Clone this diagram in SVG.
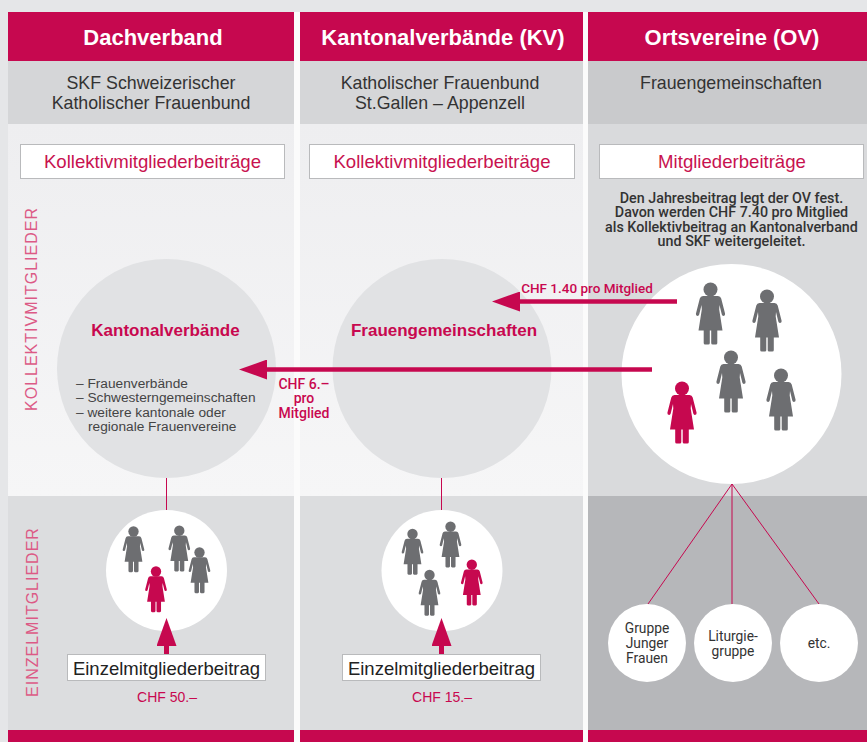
<svg xmlns="http://www.w3.org/2000/svg" xmlns:xlink="http://www.w3.org/1999/xlink" width="867" height="742" viewBox="0 0 867 742">
<style>
text{font-family:"Liberation Sans",Arial,sans-serif;}
.hd{fill:#fff;font-weight:bold;font-size:22px;text-anchor:middle;}
.sub{fill:#333;font-size:17.8px;text-anchor:middle;}
.boxt{fill:#c8124f;font-size:18.6px;text-anchor:middle;}
.box{fill:#fff;stroke:#b9babc;stroke-width:1;}
.big{fill:#e1e2e4;}
.wc{fill:#fff;}
.ttl{fill:#c8084f;font-weight:bold;font-size:17px;text-anchor:middle;}
.lst{fill:#444;font-size:13.7px;}
.lbl{fill:#c8084f;font-family:Roboto,"Liberation Sans",sans-serif;font-weight:500;font-size:14px;text-anchor:middle;}
.desc{fill:#333;font-family:Roboto,"Liberation Sans",sans-serif;font-weight:500;font-size:14.3px;text-anchor:middle;}
.ein{fill:#222;font-size:18.5px;text-anchor:middle;}
.chf{fill:#c8084f;font-size:14px;text-anchor:middle;}
.grp{fill:#333;font-family:Roboto,"Liberation Sans",sans-serif;font-weight:400;font-size:13.8px;text-anchor:middle;}
.vert{fill:#dc5a86;font-size:16px;letter-spacing:1px;text-anchor:middle;}
.arr{stroke:#c6084f;stroke-width:4.5;fill:none;}
.thin{stroke:#c6084f;stroke-width:1;fill:none;}
.gray{fill:#6d6e71;}
.red{fill:#c6084f;}
</style>
<defs>
<linearGradient id="bodyg" x1="0" y1="0" x2="0" y2="1">
<stop offset="0" stop-color="#eeeef0"/>
<stop offset="1" stop-color="#f6f6f7"/>
</linearGradient>
<marker id="ah" viewBox="0 0 28 20" markerUnits="userSpaceOnUse" markerWidth="28" markerHeight="20" refX="0" refY="10" orient="auto">
<path d="M0,0 L28,10 L0,20 Z" fill="#c6084f"/>
</marker>
<g id="woman">
<circle cx="0" cy="0" r="7"/>
<path d="M-7.5,6.5 L7.5,6.5 Q10,6.5 10.7,9 L14.6,24.2 Q14.9,26.2 13,26.4 Q11.7,26.5 11.3,25 L9,15.5 L8.7,20 L12,41 L-12,41 L-8.7,20 L-9,15.5 L-11.3,25 Q-11.7,26.5 -13,26.4 Q-14.9,26.2 -14.6,24.2 L-10.7,9 Q-10,6.5 -7.5,6.5 Z"/>
<path d="M-6.8,40 L-0.7,40 L-0.7,53.5 Q-0.7,55 -2.2,55 L-5.3,55 Q-6.8,55 -6.8,53.5 Z"/>
<path d="M6.8,40 L0.7,40 L0.7,53.5 Q0.7,55 2.2,55 L5.3,55 Q6.8,55 6.8,53.5 Z"/>
</g>
</defs>

<!-- background -->
<rect x="0" y="0" width="867" height="742" fill="#e5e6e8"/>
<rect x="294" y="12" width="6" height="730" fill="#fbfbfb"/>
<rect x="583" y="12" width="5" height="730" fill="#fbfbfb"/>

<!-- column 1 -->
<rect x="8" y="124" width="286" height="372" fill="url(#bodyg)"/>
<rect x="8" y="496" width="286" height="234" fill="#dcdddf"/>
<rect x="8" y="730" width="286" height="12" fill="#c6084f"/>
<!-- column 2 -->
<rect x="300" y="124" width="283" height="372" fill="url(#bodyg)"/>
<rect x="300" y="496" width="283" height="234" fill="#dcdddf"/>
<rect x="300" y="730" width="283" height="12" fill="#c6084f"/>
<!-- column 3 -->
<rect x="588" y="124" width="279" height="372" fill="#d9dadc"/>
<rect x="588" y="496" width="279" height="234" fill="#b6b7ba"/>
<rect x="588" y="730" width="279" height="12" fill="#c6084f"/>

<text class="vert" transform="translate(37,309) rotate(-90)">KOLLEKTIVMITGLIEDER</text>
<text class="vert" transform="translate(38,612) rotate(-90)">EINZELMITGLIEDER</text>

<g id="header-dachverband">
<rect x="8" y="12" width="286" height="49" fill="#c6084f"/>
<text class="hd" x="153" y="44.5">Dachverband</text>
<rect x="8" y="61" width="286" height="63" fill="#d5d6d8"/>
<text class="sub" x="151" y="89">SKF Schweizerischer</text>
<text class="sub" x="151" y="109">Katholischer Frauenbund</text>
</g>
<g id="header-kv">
<rect x="300" y="12" width="283" height="49" fill="#c6084f"/>
<text class="hd" x="443" y="44.5">Kantonalverbände (KV)</text>
<rect x="300" y="61" width="283" height="63" fill="#d5d6d8"/>
<text class="sub" x="440" y="89">Katholischer Frauenbund</text>
<text class="sub" x="440" y="109">St.Gallen – Appenzell</text>
</g>
<g id="header-ov">
<rect x="588" y="12" width="279" height="49" fill="#c6084f"/>
<text class="hd" x="732" y="44.5">Ortsvereine (OV)</text>
<rect x="588" y="61" width="279" height="63" fill="#c9cacc"/>
<text class="sub" x="731" y="89">Frauengemeinschaften</text>
</g>

<g id="box-kollektiv-1">
<rect class="box" x="20.5" y="144.5" width="264" height="34"/>
<text class="boxt" x="152.5" y="168">Kollektivmitgliederbeiträge</text>
</g>
<g id="box-kollektiv-2">
<rect class="box" x="309.5" y="144.5" width="265" height="34"/>
<text class="boxt" x="442" y="168">Kollektivmitgliederbeiträge</text>
</g>
<g id="box-mitglieder">
<rect class="box" x="599.5" y="144.5" width="264" height="34"/>
<text class="boxt" x="732" y="168">Mitgliederbeiträge</text>
</g>
<g id="ov-description">
<text class="desc" x="731.5" y="202.5">Den Jahresbeitrag legt der OV fest.</text>
<text class="desc" x="731.5" y="217">Davon werden CHF 7.40 pro Mitglied</text>
<text class="desc" x="731.5" y="231.5">als Kollektivbeitrag an Kantonalverband</text>
<text class="desc" x="731.5" y="246">und SKF weitergeleitet.</text>
</g>

<g id="node-kantonalverbaende">
<circle class="big" cx="166.5" cy="368.5" r="109.5"/>
<text class="ttl" x="165.5" y="336">Kantonalverbände</text>
<text class="lst" x="76" y="387.5">– Frauenverbände</text>
<text class="lst" x="76" y="402">– Schwesterngemeinschaften</text>
<text class="lst" x="76" y="416.5">– weitere kantonale oder</text>
<text class="lst" x="88" y="431">regionale Frauenvereine</text>
</g>
<g id="node-frauengemeinschaften">
<circle class="big" cx="442" cy="368.5" r="109.5"/>
<text class="ttl" x="444" y="336">Frauengemeinschaften</text>
</g>
<g id="node-ov-members">
<circle class="wc" cx="731.5" cy="374" r="110"/>
<use xlink:href="#woman" href="#woman" class="gray" transform="translate(710.5,289.5)"/>
<use xlink:href="#woman" href="#woman" class="gray" transform="translate(767,296.5)"/>
<use xlink:href="#woman" href="#woman" class="gray" transform="translate(731,357.5)"/>
<use xlink:href="#woman" href="#woman" class="gray" transform="translate(781,375.5)"/>
<use xlink:href="#woman" href="#woman" class="red" transform="translate(682,388.5)"/>
</g>

<g id="node-einzel-1">
<circle class="wc" cx="166.5" cy="570.5" r="60.5"/>
<use xlink:href="#woman" href="#woman" class="gray" transform="translate(133.5,531.5) scale(0.74)"/>
<use xlink:href="#woman" href="#woman" class="gray" transform="translate(179.3,530.7) scale(0.74)"/>
<use xlink:href="#woman" href="#woman" class="gray" transform="translate(199.5,552.5) scale(0.74)"/>
<use xlink:href="#woman" href="#woman" class="red" transform="translate(156,571.5) scale(0.74)"/>
</g>
<g id="node-einzel-2">
<circle class="wc" cx="442" cy="570.5" r="60.5"/>
<use xlink:href="#woman" href="#woman" class="gray" transform="translate(412.5,534) scale(0.74)"/>
<use xlink:href="#woman" href="#woman" class="gray" transform="translate(450.5,526.7) scale(0.74)"/>
<use xlink:href="#woman" href="#woman" class="gray" transform="translate(429.5,575) scale(0.74)"/>
<use xlink:href="#woman" href="#woman" class="red" transform="translate(471.8,564.7) scale(0.74)"/>
</g>

<g id="box-einzel-1">
<rect class="box" x="67.5" y="654.5" width="198" height="26"/>
<text class="ein" x="166.5" y="674.5">Einzelmitgliederbeitrag</text>
<text class="chf" x="167" y="701.5">CHF 50.–</text>
</g>
<g id="box-einzel-2">
<rect class="box" x="342.5" y="654.5" width="198" height="26"/>
<text class="ein" x="441.5" y="674.5">Einzelmitgliederbeitrag</text>
<text class="chf" x="442" y="701.5">CHF 15.–</text>
</g>

<g id="node-gruppe">
<circle class="wc" cx="647" cy="643" r="39"/>
<text class="grp" x="647" y="633">Gruppe</text>
<text class="grp" x="647" y="648">Junger</text>
<text class="grp" x="647" y="662.5">Frauen</text>
</g>
<g id="node-liturgie">
<circle class="wc" cx="733" cy="643" r="39"/>
<text class="grp" x="733" y="640.5">Liturgie-</text>
<text class="grp" x="733" y="655.5">gruppe</text>
</g>
<g id="node-etc">
<circle class="wc" cx="819" cy="643" r="39"/>
<text class="grp" x="819" y="647.5">etc.</text>
</g>

<g id="connectors">
<line class="arr" x1="677" y1="301.5" x2="520" y2="301.5" marker-end="url(#ah)"/>
<line class="arr" x1="652" y1="369.5" x2="267" y2="369.5" marker-end="url(#ah)"/>
<line class="thin" x1="166.5" y1="478" x2="166.5" y2="510"/>
<line class="thin" x1="441.5" y1="478" x2="441.5" y2="510"/>
<line class="arr" style="stroke-width:5" x1="166.5" y1="654" x2="166.5" y2="646" marker-end="url(#ah)"/>
<line class="arr" style="stroke-width:5" x1="441.5" y1="654" x2="441.5" y2="646" marker-end="url(#ah)"/>
<line class="thin" x1="732" y1="484" x2="648" y2="604"/>
<line class="thin" x1="732" y1="484" x2="732" y2="604"/>
<line class="thin" x1="732" y1="484" x2="819" y2="604"/>
<text class="lbl" x="587" y="292.5" style="font-size:13.5px">CHF 1.40 pro Mitglied</text>
<text class="lbl" x="304" y="388.5">CHF 6.–</text>
<text class="lbl" x="304" y="403">pro</text>
<text class="lbl" x="304" y="417.5">Mitglied</text>
</g>
</svg>
